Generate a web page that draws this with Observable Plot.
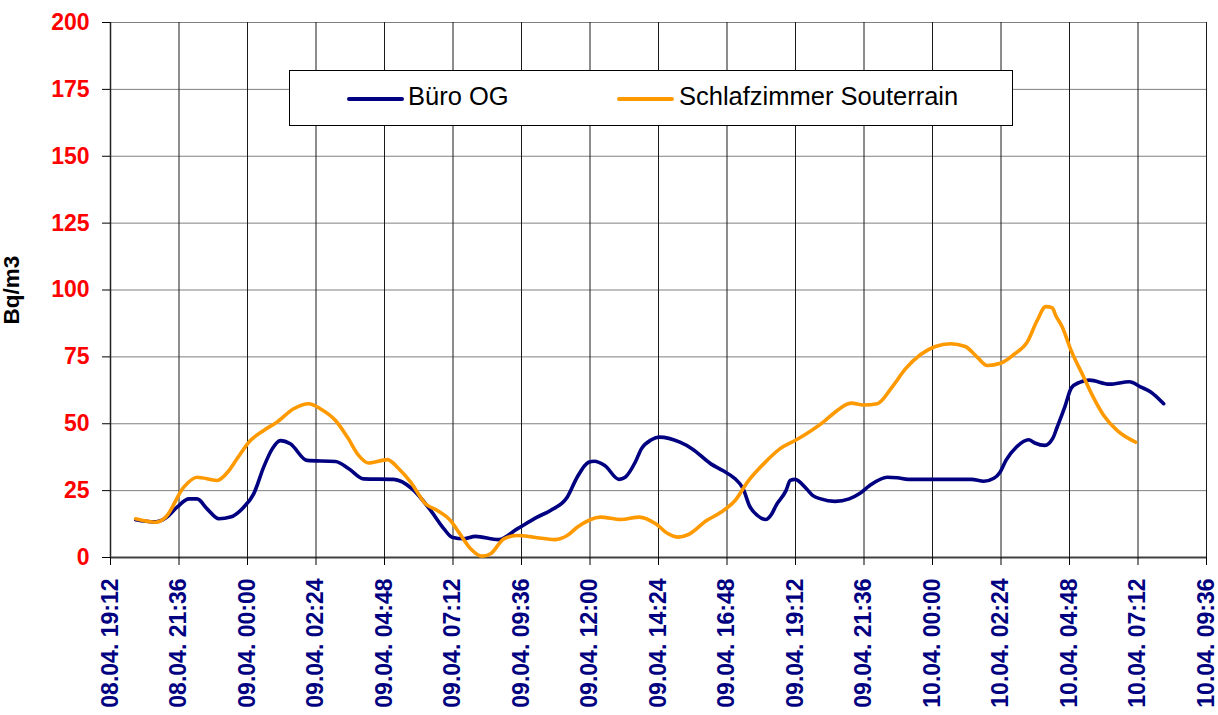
<!DOCTYPE html>
<html>
<head>
<meta charset="utf-8">
<script src="https://cdn.jsdelivr.net/npm/d3@7"></script>
<script src="https://cdn.jsdelivr.net/npm/@observablehq/plot@0.6"></script>
<style>
  html, body { margin: 0; padding: 0; background: #fff; }
  #wrap { position: relative; width: 1218px; height: 715px; font-family: "Liberation Sans", Arial, sans-serif; }
  #legend { position: absolute; left: 289px; top: 70px; width: 722px; height: 54px; border: 1px solid #000; background: #fff; box-sizing: content-box; }
  .sw { position: absolute; height: 4px; width: 57px; top: 26px; border-radius: 2px; }
  .lt { position: absolute; top: 13px; font-size: 25.5px; line-height: 25px; color: #000; white-space: nowrap; }
</style>
</head>
<body>
<div id="wrap"></div>
<script>
const seriesNames = ["Büro OG", "Schlafzimmer Souterrain"];
const seriesColors = ["#000080", "#FF9900"];

const xTickLabels = ["08.04. 19:12","08.04. 21:36","09.04. 00:00","09.04. 02:24","09.04. 04:48","09.04. 07:12","09.04. 09:36","09.04. 12:00","09.04. 14:24","09.04. 16:48","09.04. 19:12","09.04. 21:36","10.04. 00:00","10.04. 02:24","10.04. 04:48","10.04. 07:12","10.04. 09:36"];
const yTicks = [0, 25, 50, 75, 100, 125, 150, 175, 200];

const buroTimes = ["08.04. 20:05","08.04. 20:43","08.04. 21:08","08.04. 21:32","08.04. 21:57","08.04. 22:14","08.04. 22:35","08.04. 23:00","08.04. 23:24","08.04. 23:52","09.04. 00:13","09.04. 00:34","09.04. 00:52","09.04. 01:09","09.04. 01:30","09.04. 02:05","09.04. 03:05","09.04. 03:33","09.04. 04:04","09.04. 05:07","09.04. 05:46","09.04. 06:25","09.04. 06:53","09.04. 07:10","09.04. 07:35","09.04. 07:59","09.04. 08:48","09.04. 09:27","09.04. 10:09","09.04. 10:37","09.04. 11:12","09.04. 11:33","09.04. 11:57","09.04. 12:09","09.04. 12:31","09.04. 13:01","09.04. 13:14","09.04. 13:35","09.04. 13:48","09.04. 14:09","09.04. 14:26","09.04. 15:09","09.04. 15:35","09.04. 16:14","09.04. 16:39","09.04. 17:05","09.04. 17:22","09.04. 17:35","09.04. 17:52","09.04. 18:09","09.04. 18:22","09.04. 18:31","09.04. 18:52","09.04. 19:01","09.04. 19:11","09.04. 19:35","09.04. 19:48","09.04. 20:05","09.04. 20:35","09.04. 21:05","09.04. 21:26","09.04. 21:48","09.04. 22:25","09.04. 22:46","09.04. 23:09","10.04. 01:22","10.04. 01:48","10.04. 02:09","10.04. 02:22","10.04. 02:35","10.04. 02:56","10.04. 03:22","10.04. 03:35","10.04. 03:56","10.04. 04:13","10.04. 04:22","10.04. 04:38","10.04. 04:52","10.04. 05:09","10.04. 05:30","10.04. 06:12","10.04. 06:54","10.04. 07:17","10.04. 07:38","10.04. 08:06"];
const buroValues = [14.1,13.3,14.8,18.8,21.9,21.9,18.2,14.5,15.1,18.8,23.8,33.8,40.6,43.7,42.5,36.3,35.9,33.2,29.4,29.2,25.7,17.6,10.7,7.6,7.0,7.9,6.7,10.7,15.1,17.6,22.5,30.0,35.6,36.0,34.4,29.2,30.0,35.6,40.6,44.0,45.0,43.1,40.6,35.0,32.5,29.4,25.7,19.4,15.7,14.2,16.3,19.4,25.0,28.8,29.2,25.7,23.2,21.9,21.0,21.9,23.8,26.9,30.0,29.8,29.2,29.2,28.5,29.6,31.9,36.5,41.2,44.0,42.8,41.9,44.6,48.7,56.2,63.4,65.5,66.3,64.8,65.7,63.8,62.0,57.5];

const schlafTimes = ["08.04. 20:05","08.04. 20:47","08.04. 21:08","08.04. 21:46","08.04. 22:14","08.04. 22:56","08.04. 23:21","08.04. 23:38","09.04. 00:06","09.04. 00:34","09.04. 01:02","09.04. 01:37","09.04. 02:09","09.04. 02:33","09.04. 03:05","09.04. 03:30","09.04. 03:54","09.04. 04:15","09.04. 04:54","09.04. 05:18","09.04. 05:43","09.04. 06:14","09.04. 06:39","09.04. 07:07","09.04. 07:24","09.04. 07:49","09.04. 08:13","09.04. 08:31","09.04. 08:59","09.04. 09:27","09.04. 10:02","09.04. 10:47","09.04. 11:12","09.04. 11:33","09.04. 12:22","09.04. 13:05","09.04. 13:44","09.04. 14:18","09.04. 14:44","09.04. 15:05","09.04. 15:27","09.04. 16:05","09.04. 16:35","09.04. 17:05","09.04. 17:31","09.04. 18:05","09.04. 18:39","09.04. 19:14","09.04. 20:13","09.04. 20:35","09.04. 21:09","09.04. 21:35","09.04. 22:04","09.04. 22:35","09.04. 23:03","09.04. 23:35","10.04. 00:06","10.04. 00:38","10.04. 01:09","10.04. 01:34","10.04. 01:55","10.04. 02:23","10.04. 02:51","10.04. 03:19","10.04. 03:40","10.04. 03:58","10.04. 04:12","10.04. 04:19","10.04. 04:33","10.04. 04:50","10.04. 05:18","10.04. 05:36","10.04. 06:00","10.04. 06:28","10.04. 07:07"];
const schlafValues = [14.5,13.2,15.1,26.3,30.0,28.8,32.5,36.9,43.7,47.5,50.6,55.6,57.5,55.6,51.2,45.0,38.1,35.3,36.6,33.2,28.2,20.1,17.6,13.8,9.5,3.3,0.5,1.4,7.0,8.2,7.6,6.7,8.2,11.3,15.1,14.2,15.1,12.6,8.9,7.6,8.6,13.8,16.9,21.3,28.2,35.0,40.6,44.0,51.0,54.3,57.7,57.0,57.5,63.7,70.5,75.9,78.9,79.9,78.9,74.9,71.8,72.6,75.9,80.5,88.6,93.8,93.3,90.5,86.1,78.0,67.4,60.6,53.1,47.5,43.1];

const parse = d3.utcParse("%d.%m. %H:%M");
const fmt = d3.utcFormat("%d.%m. %H:%M");
const xTicks = xTickLabels.map(parse);

const rows = [
  ...buroTimes.map((t, i) => ({ series: seriesNames[0], time: parse(t), value: buroValues[i] })),
  ...schlafTimes.map((t, i) => ({ series: seriesNames[1], time: parse(t), value: schlafValues[i] }))
];

const font = "'Liberation Sans', Arial, sans-serif";

const chart = Plot.plot({
  width: 1218,
  height: 715,
  marginLeft: 110,
  marginRight: 12,
  marginTop: 22,
  marginBottom: 158,
  style: { fontFamily: font, background: "#fff", overflow: "visible" },
  x: { type: "utc", domain: [xTicks[0], xTicks[xTicks.length - 1]] },
  y: { domain: [0, 200] },
  color: { domain: seriesNames, range: seriesColors },
  marks: [
    Plot.gridY(yTicks, { stroke: "#808080", strokeOpacity: 1, strokeWidth: 1 }),
    Plot.gridX(xTicks, { stroke: "#1a1a1a", strokeOpacity: 1, strokeWidth: 1 }),
    Plot.ruleX([xTicks[0]], { stroke: "#222", strokeWidth: 1.5 }),
    Plot.ruleY([0], { stroke: "#404040", strokeWidth: 2 }),
    Plot.axisY(yTicks, {
      tickSize: 8, tickPadding: 13, stroke: "#000", fill: "#FF0000",
      fontSize: 23, fontWeight: "bold", tickFormat: d => String(d),
      label: "Bq/m3", labelAnchor: "center", labelArrow: "none"
    }),
    Plot.axisX(xTicks, {
      tickSize: 8, tickPadding: 13, tickRotate: -90, stroke: "#000", fill: "#000080",
      fontSize: 23, fontWeight: "bold", tickFormat: fmt, label: null
    }),
    Plot.line(rows, {
      x: "time", y: "value", z: "series", stroke: "series",
      strokeWidth: 3.6, curve: "monotone-x", strokeLinejoin: "round", strokeLinecap: "round"
    })
  ]
});

const wrap = document.getElementById("wrap");
wrap.appendChild(chart);

chart.querySelectorAll("g[aria-label='y-axis label'] text").forEach(t => {
  t.setAttribute("font-size", "22.5");
  t.setAttribute("font-weight", "bold");
  t.setAttribute("fill", "#000");
});

const legend = document.createElement("div");
legend.id = "legend";
const items = [
  { sw: 57, tx: 118 },
  { sw: 327, tx: 389 }
];
seriesNames.forEach((name, i) => {
  const sw = document.createElement("div");
  sw.className = "sw";
  sw.style.left = items[i].sw + "px";
  sw.style.background = seriesColors[i];
  legend.appendChild(sw);
  const tx = document.createElement("div");
  tx.className = "lt";
  tx.style.left = items[i].tx + "px";
  tx.textContent = name;
  legend.appendChild(tx);
});
wrap.appendChild(legend);
</script>
</body>
</html>
